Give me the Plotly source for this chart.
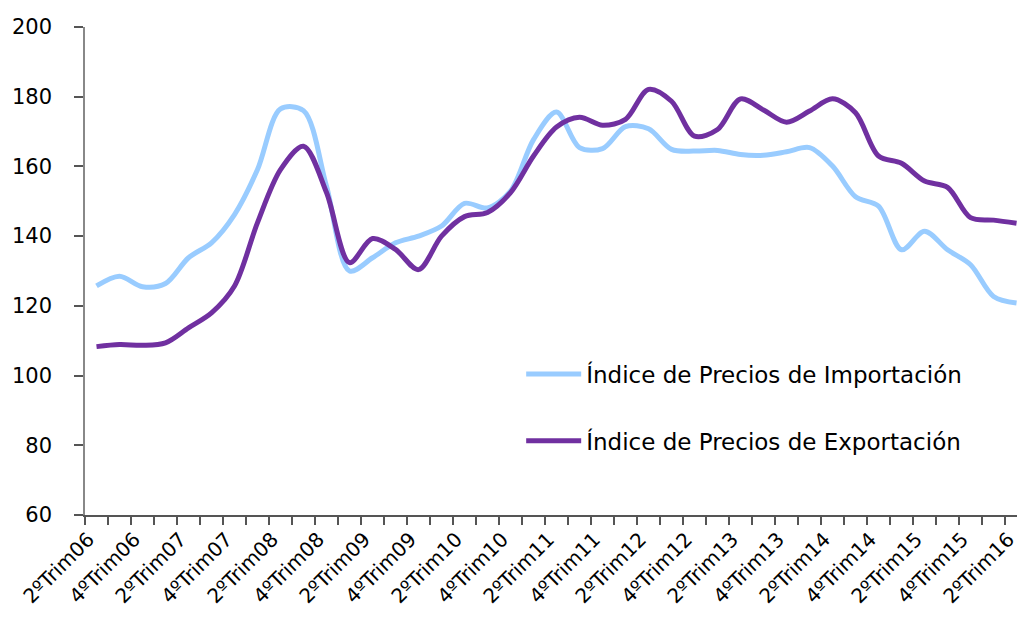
import plotly.graph_objects as go

categories = []
for yr in range(6, 17):
    for q in (1, 2, 3, 4):
        if (yr == 6 and q < 2) or (yr == 16 and q > 2):
            continue
        categories.append(f"{q}ºTrim{yr:02d}")

importacion = [125.7, 128.5, 125.5, 126.4, 133.8, 138.1, 146.2, 159.1, 176.5, 176.0,
               154.3, 130.0, 133.8, 138.1, 140.0, 142.9, 149.4, 148.1, 152.9, 167.7,
               175.6, 165.4, 165.1, 171.4, 170.8, 164.9, 164.4, 164.6, 163.4, 163.2,
               164.2, 165.4, 160.1, 151.3, 148.6, 136.1, 141.4, 136.1, 131.8, 122.7,
               120.8]
exportacion = [108.3, 108.9, 108.7, 109.4, 113.7, 118.0, 125.7, 143.9, 159.1, 165.8,
               152.5, 132.4, 139.3, 136.2, 130.4, 140.0, 145.6, 146.8, 152.5, 163.0,
               171.3, 174.1, 171.8, 173.5, 182.1, 178.7, 168.7, 170.6, 179.4, 176.2,
               172.7, 175.9, 179.4, 175.4, 163.0, 160.9, 155.8, 154.0, 145.3, 144.6,
               143.7]

x_idx = list(range(len(categories)))
label_idx = [i for i in x_idx if i % 2 == 0]
label_txt = [categories[i] for i in label_idx]

FONT = "DejaVu Sans"

fig = go.Figure()
fig.add_trace(go.Scatter(
    x=x_idx, y=importacion, mode="lines", name="Índice de Precios de Importación",
    line=dict(color="#99CCFF", width=5, shape="spline", smoothing=0.9),
    legendgroup="a"))
fig.add_trace(go.Scatter(
    x=x_idx, y=exportacion, mode="lines", name="Índice de Precios de Exportación",
    line=dict(color="#7030A0", width=5, shape="spline", smoothing=0.9),
    legendgroup="b"))

fig.update_layout(
    width=1017, height=617,
    margin=dict(l=85, r=0, t=27, b=102, autoexpand=False),
    plot_bgcolor="white", paper_bgcolor="white",
    font=dict(family=FONT, color="#000000"),
    showlegend=True,
    legend=dict(x=0.468, y=0.333, xanchor="left", yanchor="top",
                font=dict(size=23, family=FONT), bgcolor="rgba(0,0,0,0)",
                traceorder="grouped", tracegroupgap=34, itemwidth=55),
    xaxis=dict(range=[-0.5, 40.02], tickmode="array", tickvals=label_idx,
               ticktext=label_txt, tickangle=-45, ticks="", showgrid=False,
               zeroline=False, showline=True, linecolor="#555555", linewidth=1.5,
               automargin=False, ticklabeloverflow="allow",
               ticklabelshift=-8, ticklabelstandoff=3,
               tickfont=dict(size=20, family=FONT),
               minor=dict(tick0=-0.5, dtick=1, ticks="outside", ticklen=8,
                          tickcolor="#555555", tickwidth=1.5, showgrid=False)),
    yaxis=dict(range=[60, 200], tickvals=[60, 80, 100, 120, 140, 160, 180, 200],
               ticks="outside", ticklen=9, tickcolor="#555555", tickwidth=1.5,
               showgrid=False, zeroline=False, showline=True, linecolor="#888888",
               linewidth=1.5, automargin=False, tickfont=dict(size=21, family=FONT),
               ticklabelstandoff=18),
)

fig.write_html("out.html", config={"displayModeBar": False},
               post_script="document.body.style.margin='0';document.body.style.overflow='hidden';")
